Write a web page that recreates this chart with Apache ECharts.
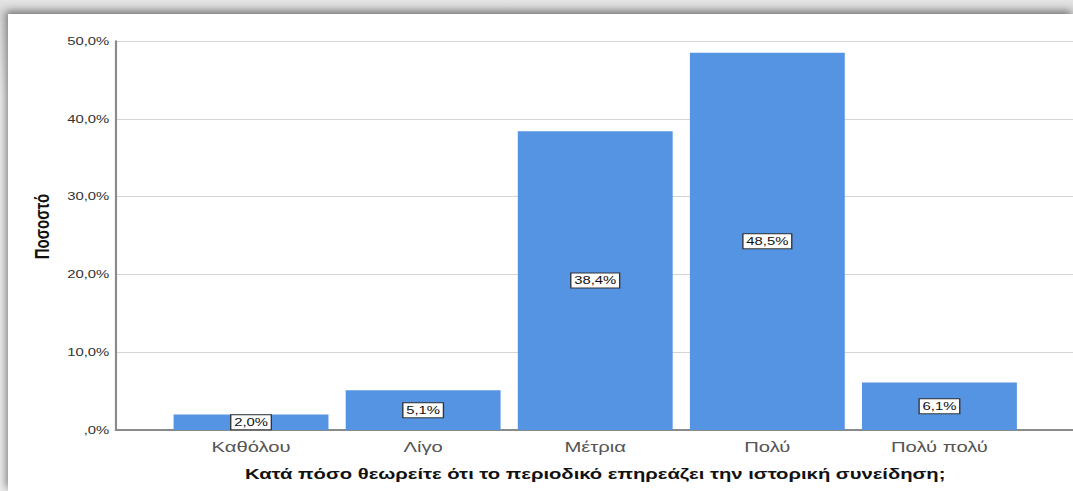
<!DOCTYPE html>
<html><head><meta charset="utf-8">
<script src="https://cdn.jsdelivr.net/npm/echarts@6/dist/echarts.min.js"></script>
<style>
html,body{margin:0;padding:0;width:1073px;height:491px;overflow:hidden;background:linear-gradient(#e4e4e4,#d6d6d6 3%,#ececec 20%);}
#frame{position:absolute;left:8px;top:14px;width:1065px;height:477px;background:#fff;box-shadow:-2px -3px 8px rgba(0,0,0,0.45);overflow:hidden;}
#c{position:absolute;left:0;top:0;width:789px;height:477px;transform-origin:0 0;transform:scaleX(1.34981);}
</style></head><body>
<div id="frame"><div id="c"></div></div>
<script>
const categories = ['Καθόλου', 'Λίγο', 'Μέτρια', 'Πολύ', 'Πολύ πολύ'];
const percentages = [2.0, 5.1, 38.4, 48.5, 6.1];
const yTicks = [0, 10, 20, 30, 40, 50];
const xTitle = 'Κατά πόσο θεωρείτε ότι το περιοδικό επηρεάζει την ιστορική συνείδηση;';
const yTitle = 'Ποσοστό';

const fmt = v => (v === 0 ? '' : Math.floor(v).toString()) + ',' + Math.round((v % 1) * 10) + '%';
const font = 'Liberation Sans, Arial, sans-serif';
const chart = echarts.init(document.getElementById('c'), null, {renderer: 'svg'});
chart.setOption({
  animation: false,
  grid: [
    {left: 80, right: 0, top: 27, bottom: 61},
    {left: 116.3, right: 35.2, top: 27, bottom: 61}
  ],
  xAxis: [
    {gridIndex: 0, type: 'category', data: categories, axisLabel: {show: false}, axisTick: {show: false},
     axisLine: {lineStyle: {color: '#8a8a8a', width: 2}}},
    {gridIndex: 1, type: 'category', data: categories, axisTick: {show: false}, axisLine: {show: false},
     axisLabel: {fontFamily: font, fontSize: 15, color: '#555', margin: 9},
     name: xTitle, nameLocation: 'middle', nameGap: 36,
     nameTextStyle: {fontFamily: font, fontSize: 15, fontWeight: 'bold', color: '#111'}}
  ],
  yAxis: [
    {gridIndex: 0, type: 'value', min: 0, max: 50, interval: 10,
     axisLine: {show: true, lineStyle: {color: '#8a8a8a', width: 1.6}}, axisTick: {show: false},
     splitLine: {lineStyle: {color: '#d4d4d4', width: 1}},
     axisLabel: {fontFamily: font, fontSize: 11, color: '#333', margin: 5, formatter: v => yTicks.includes(v) ? fmt(v) : ''},
     name: yTitle, nameLocation: 'middle', nameGap: 47, nameRotate: 90,
     nameTextStyle: {fontFamily: font, fontSize: 15, fontWeight: 'bold', color: '#111', padding: [0, 0, 0, 18]}},
    {gridIndex: 1, type: 'value', min: 0, max: 50, interval: 10, show: false}
  ],
  series: [{
    type: 'bar', xAxisIndex: 1, yAxisIndex: 1, data: percentages, barWidth: '90%',
    itemStyle: {color: '#5594e2'},
    label: {show: true, position: 'inside', formatter: p => fmt(p.value),
      fontFamily: font, fontSize: 11, color: '#111', backgroundColor: '#fff',
      borderColor: '#333', borderWidth: 1, padding: [2, 2, 1, 2]}
  }]
});
</script></body></html>
